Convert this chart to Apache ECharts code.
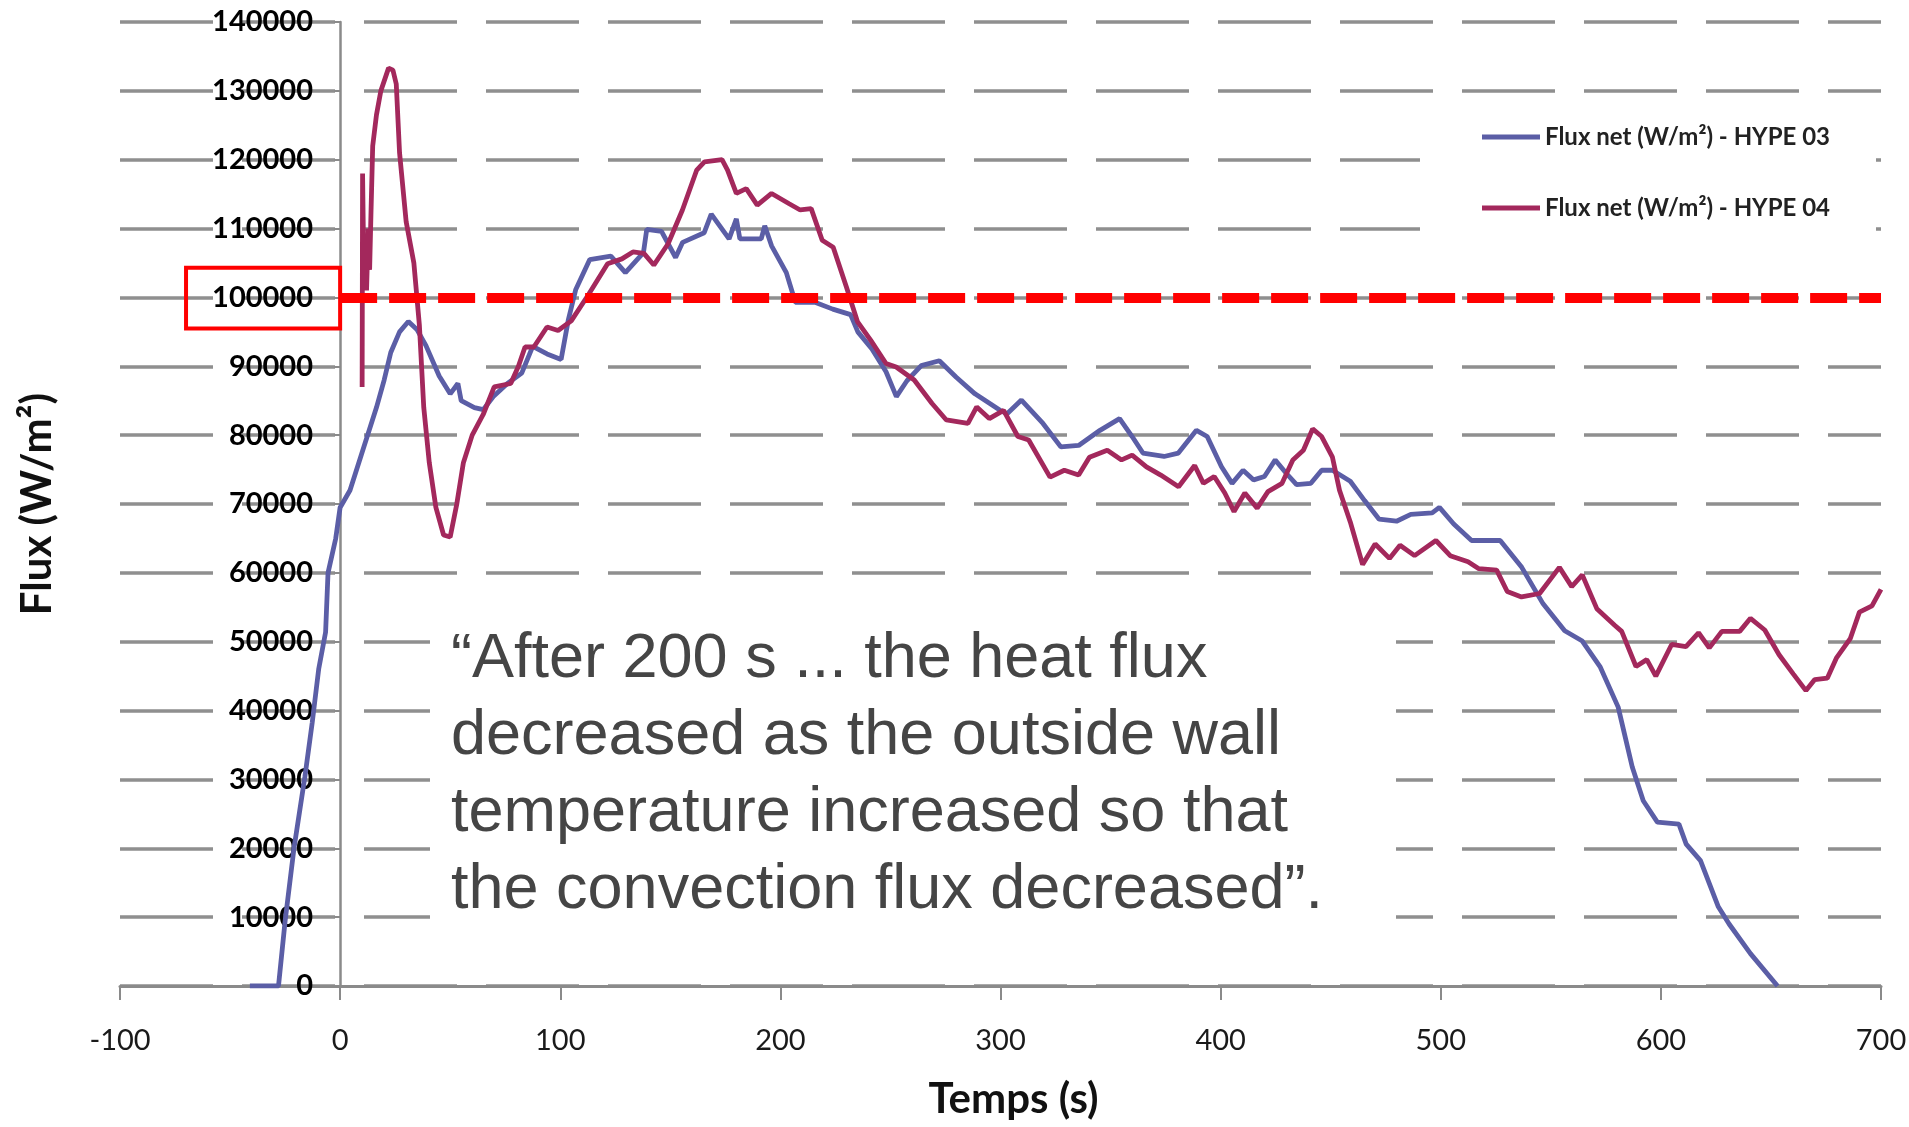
<!DOCTYPE html>
<html>
<head>
<meta charset="utf-8">
<script src="https://cdn.jsdelivr.net/npm/echarts@6/dist/echarts.min.js"></script>
<style>
  html, body { margin: 0; padding: 0; background: #fff; }
  #fluxChart { width: 1909px; height: 1127px; }
</style>
</head>
<body>
<div id="fluxChart"></div>
<script>
// HYPE 03 (blue) : temps (s) / flux net (W/m²)
const hype03Time = [
  -41, -28, -25, -21, -16, -12.7, -9.7, -6.6, -5.5, -2,
  0, 4.5, 9.5, 16.5, 20, 23, 27, 31, 35, 39,
  45, 50, 53.5, 55, 61, 65, 69.6, 76, 82.5, 87.5,
  94, 100.4, 103.7, 107, 113.4, 123, 129.6, 137.8, 139.3, 146,
  152.4, 155.6, 165.4, 168.6, 176.7, 180, 181.6, 191.3, 192.9, 196,
  202.7, 206.8, 215.7, 223.8, 231.9, 235.2, 241.6, 248, 252.7, 257.5,
  264, 272.2, 279.9, 288.4, 299.8, 303, 309.5, 319.3, 327.4, 335.5,
  345.2, 354.1, 359.8, 364.7, 374.3, 380.8, 389, 393.9, 400.4, 405.2,
  410.2, 415, 419.9, 424.8, 429.7, 434.5, 441, 445.9, 450.8, 458.9,
  465.4, 472, 479.9, 486.4, 496.1, 499.4, 505.9, 514, 527, 536.8,
  546.5, 556.3, 564.3, 572.5, 580.6, 587, 592, 598.4, 608.2, 611.5,
  618, 626.1, 631, 640.7, 653
];
const hype03Flux = [
  0, 0, 9400, 19900, 30400, 38200, 46100, 51400, 60000, 65000,
  69500, 72000, 77000, 84000, 88000, 92000, 95000, 96500, 95300, 93000,
  88600, 86000, 87500, 85000, 84000, 83700, 85600, 87500, 89000, 92900,
  91800, 91000, 96800, 101100, 105500, 106000, 103600, 106500, 109900, 109600,
  105800, 108000, 109400, 112100, 108500, 111400, 108500, 108500, 110400, 107500,
  103600, 99300, 99300, 98300, 97500, 95000, 92500, 89200, 85600, 87900,
  90100, 90800, 88400, 86000, 83600, 83100, 85100, 81700, 78300, 78500,
  80700, 82400, 79800, 77400, 76900, 77400, 80700, 79800, 75400, 73000,
  74900, 73500, 74000, 76400, 74500, 72800, 73000, 74900, 74900, 73300,
  70500, 67800, 67500, 68500, 68700, 69500, 67100, 64700, 64700, 60800,
  55500, 51600, 50100, 46300, 40500, 31800, 26900, 23800, 23500, 20600,
  18200, 11500, 9000, 4700, 0
];

// HYPE 04 (red)
const hype04Time = [
  10, 10.2, 10.8, 11.5, 12, 12.8, 13.4, 14, 14.8, 16.5,
  18.5, 22, 24, 25.5, 27, 30, 33.5, 36, 38, 40.5,
  43.5, 47, 50, 53, 56, 60, 65, 70, 77.5, 81,
  84, 88, 94, 99, 105, 113, 121.5, 128, 133, 138,
  142.5, 149, 155.5, 162, 165.5, 173.5, 176, 180, 184.5, 189.5,
  196, 204, 209, 214, 219, 224, 230, 235, 241, 248,
  252.6, 260.8, 268.9, 275.4, 285.2, 289.2, 294.9, 301.4, 307.9, 312.8,
  322.5, 329, 335.5, 340.4, 348.5, 355, 359.8, 366.3, 372.8, 380.9,
  388.2, 392.2, 397.1, 401.9, 406.1, 411, 416.6, 421.5, 427.9, 432.8,
  437.6, 441.8, 445.9, 450.8, 454, 458.9, 464.5, 470.2, 476.7, 481.5,
  488.1, 497.8, 504.3, 512.4, 517.3, 525.4, 530.2, 536.7, 544.9, 553.9,
  559.5, 564.3, 570.9, 579, 582.2, 588.7, 593.6, 597.7, 604.9, 611.4,
  617.1, 622, 627.7, 635.8, 640.7, 647.2, 653.7, 660.2, 665.9, 669.9,
  675.6, 679.7, 686.1, 690.2, 695.9, 700
];
const hype04Flux = [
  87000, 118000, 103000, 108000, 101000, 110000, 104000, 112000, 122000, 126500,
  130000, 133300, 133000, 131000, 121000, 111000, 105000, 96000, 84000, 76000,
  69500, 65500, 65200, 70000, 76000, 80000, 83000, 87000, 87500, 90000,
  92800, 92800, 95700, 95200, 96600, 100500, 104900, 105600, 106600, 106400,
  104700, 107800, 112700, 118500, 119700, 120000, 118500, 115100, 115800, 113400,
  115100, 113600, 112700, 112900, 108300, 107300, 101500, 96500, 93800, 90400,
  89900, 88000, 84600, 82200, 81700, 84100, 82400, 83600, 79800, 79300,
  73900, 74900, 74200, 76800, 77800, 76400, 77100, 75400, 74200, 72500,
  75600, 73000, 74000, 71600, 68900, 71600, 69400, 71800, 73000, 76400,
  77800, 80900, 79800, 76800, 72000, 67400, 61200, 64200, 62100, 64000,
  62500, 64700, 62500, 61600, 60600, 60400, 57300, 56500, 57000, 60800,
  58000, 59700, 54800, 52400, 51500, 46400, 47400, 45000, 49600, 49300,
  51300, 49100, 51500, 51500, 53400, 51700, 48100, 45300, 42900, 44500,
  44700, 47600, 50500, 54300, 55200, 57600
];

const seriesNames = ['Flux net (W/m²) - HYPE 03', 'Flux net (W/m²) - HYPE 04'];
const thresholdFlux = 100000;
const noteLines = [
  '“After 200 s ... the heat flux',
  'decreased as the outside wall',
  'temperature increased so that',
  'the convection flux decreased”.'
];

function pairs(xs, ys) {
  return xs.map((x, i) => [x, ys[i]]);
}

let chart = echarts.init(document.getElementById('fluxChart'));
chart.setOption({
  animation: false,
  backgroundColor: '#fff',
  grid: { left: 120, right: 28, top: 22, bottom: 141, containLabel: false, outerBoundsMode: 'none' },
  legend: {
    data: seriesNames,
    orient: 'vertical',
    left: 1420,
    top: 110,
    backgroundColor: '#fff',
    padding: [13, 46, 18, 62],
    itemGap: 43,
    itemWidth: 58,
    itemHeight: 5,
    icon: 'rect',
    textStyle: { fontFamily: 'Lato', fontWeight: 'bold', fontSize: 24, color: '#222', lineHeight: 28 }
  },
  xAxis: {
    type: 'value',
    min: -100,
    max: 700,
    interval: 100,
    name: 'Temps (s)',
    nameLocation: 'middle',
    nameGap: 92,
    nameTextStyle: { fontFamily: 'Lato', fontWeight: 'bold', fontSize: 42, color: '#111', padding: [0, 0, 0, 26] },
    axisLine: { lineStyle: { color: '#8a8a8a', width: 3 } },
    axisTick: { show: true, length: 14, lineStyle: { color: '#8a8a8a', width: 2 } },
    axisLabel: { fontFamily: 'Lato', fontSize: 29, color: '#1a1a1a', margin: 40 },
    splitLine: { show: false }
  },
  yAxis: {
    type: 'value',
    min: 0,
    max: 140000,
    interval: 10000,
    offset: -220,
    name: 'Flux (W/m²)',
    nameLocation: 'middle',
    nameGap: 282,
    nameTextStyle: { fontFamily: 'Lato', fontWeight: 'bold', fontSize: 42, color: '#111' },
    axisLine: { onZero: false, lineStyle: { color: '#8a8a8a', width: 2.5 } },
    axisTick: { show: true, length: 6, lineStyle: { color: '#8a8a8a', width: 2 } },
    axisLabel: { fontFamily: 'Lato', fontSize: 29, fontWeight: 'bold', color: '#000', margin: 27, formatter: v => String(v) },
    splitLine: { show: true, lineStyle: { color: '#8f8f8f', width: 3.5, type: [93, 29] } }
  },
  series: [
    {
      name: seriesNames[0],
      type: 'line',
      data: pairs(hype03Time, hype03Flux),
      showSymbol: false,
      color: '#5b5ea6',
      lineStyle: { width: 4.8, color: '#5b5ea6' },
      markArea: {
        silent: true,
        label: { show: false },
        itemStyle: { color: 'rgba(0,0,0,0)', borderColor: '#ff0000', borderWidth: 4 },
        data: [[{ coord: [-70, 104300] }, { coord: [0, 95500] }]]
      }
    },
    {
      name: seriesNames[1],
      type: 'line',
      data: pairs(hype04Time, hype04Flux),
      showSymbol: false,
      color: '#a3285c',
      lineStyle: { width: 4.8, color: '#a3285c' },
      markLine: {
        silent: true,
        symbol: ['none', 'none'],
        label: { show: false },
        lineStyle: { color: '#ff0000', width: 10, type: [37, 12] },
        data: [[{ coord: [0, thresholdFlux] }, { coord: [700, thresholdFlux] }]]
      }
    }
  ],
  graphic: [
    {
      type: 'rect',
      z: 1,
      silent: true,
      shape: { x: 430, y: 600, width: 966, height: 345 },
      style: { fill: '#fff' }
    },
    {
      type: 'text',
      z: 10,
      x: 451,
      y: 621,
      style: {
        text: noteLines.join('\n'),
        fontFamily: '"Liberation Sans", Arial, sans-serif',
        fontSize: 63,
        lineHeight: 77,
        fill: '#454545'
      }
    }
  ]
});
</script>
</body>
</html>
